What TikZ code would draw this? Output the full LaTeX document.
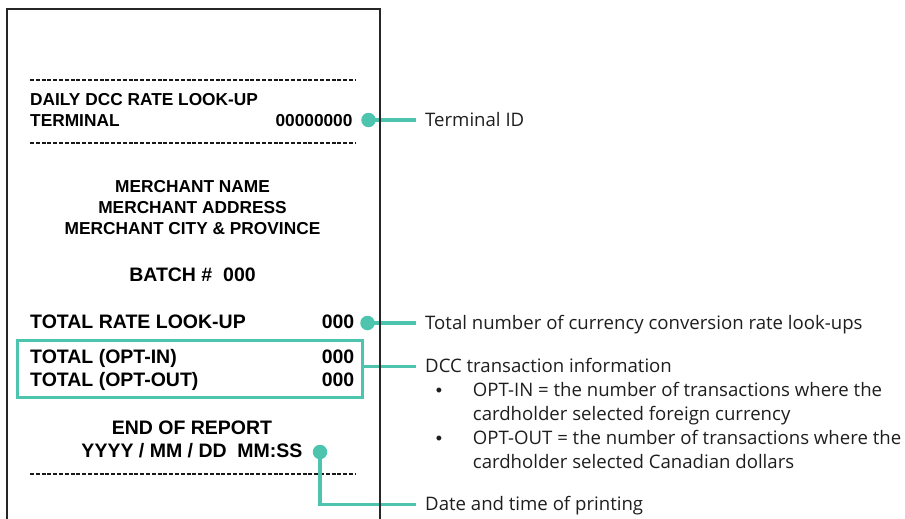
\documentclass[tikz,border=0pt]{standalone}
\usepackage{fontspec}
\newfontfamily\rfont{Liberation Sans}
\newfontfamily\lfont{Open Sans}
\definecolor{tealc}{RGB}{77,196,174}
\definecolor{txt}{RGB}{30,30,30}
\begin{document}
\begin{tikzpicture}[x=1pt,y=-1pt,
  rsmall/.style={inner sep=0pt, font=\rfont\bfseries\fontsize{17.3}{20}\selectfont, text=black},
  rbig/.style={inner sep=0pt, font=\rfont\bfseries\fontsize{19.5}{22}\selectfont, text=black},
  lab/.style={inner sep=0pt, anchor=base west, font=\lfont\fontsize{18.6}{21}\selectfont, text=txt},
  bul/.style={inner sep=0pt, anchor=base, font=\rfont\fontsize{18}{21}\selectfont, text=txt},
  dotc/.style={circle, fill=tealc, inner sep=0pt, minimum size=14.5pt},
  conn/.style={draw=tealc, line width=3.2pt},
  dashl/.style={draw=black!90, line width=2pt, dash pattern=on 4pt off 1.8pt}]
\useasboundingbox (0,0) rectangle (905,519);
\clip (0,0) rectangle (905,519);
% receipt texts
\coordinate (da1) at (30,80); \coordinate (db1) at (356,80);
\coordinate (da2) at (30,142.5); \coordinate (db2) at (356,142.5);
\coordinate (da3) at (30,474); \coordinate (db3) at (356,474);
\draw[dashl] (da1) -- (db1);
\draw[dashl] (da2) -- (db2);
\draw[dashl] (da3) -- (db3);
\node[rsmall, anchor=base west] (daily) at (30,105.7) {DAILY DCC RATE LOOK-UP};
\node[rsmall, anchor=base west] (term) at (30,126) {TERMINAL};
\node[rsmall, anchor=base east] (tid) at (352.7,126) {00000000};
\node[rsmall, anchor=base] (mn) at (192.5,192.5) {MERCHANT NAME};
\node[rsmall, anchor=base] (ma) at (192.5,213.5) {MERCHANT ADDRESS};
\node[rsmall, anchor=base] (mc) at (192.5,234.3) {MERCHANT CITY \& PROVINCE};
\node[rbig, anchor=base] (batch) at (192.5,281) {BATCH \#\ \ 000};
\node[rbig, anchor=base west] (trl) at (30,328.7) {TOTAL RATE LOOK-UP};
\node[rbig, anchor=base east] (trlv) at (354.5,328.7) {000};
\node[rbig, anchor=base west] (tin) at (30,363.5) {TOTAL (OPT-IN)};
\node[rbig, anchor=base east] (tinv) at (354.5,363.5) {000};
\node[rbig, anchor=base west] (tout) at (30,386) {TOTAL (OPT-OUT)};
\node[rbig, anchor=base east] (toutv) at (354.5,386) {000};
\node[rbig, anchor=base] (eor) at (192,434.5) {END OF REPORT};
\node[rbig, anchor=base] (ymd) at (192,457.5) {YYYY / MM / DD\ \ MM:SS};
% box
\node[draw=tealc, line width=3pt, minimum width=345.5pt, minimum height=57pt, inner sep=0pt] (box) at (189.75,369) {};
% dots
\node[dotc] (d1) at (368.5,120) {};
\node[dotc] (d2) at (367.5,323) {};
\node[dotc] (d4) at (320,452) {};
% label ends
\coordinate (e1) at (416,120);
\coordinate (e2) at (416,323);
\coordinate (e3) at (416,366.7);
\coordinate (e4) at (416,504.5);
\draw[conn] (d1.center) -- (e1);
\draw[conn] (d2.center) -- (e2);
\draw[conn] (box.east |- e3) -- (e3);
\draw[conn] (d4.center) |- (e4);
% labels
\node[lab] (l1) at (425,126.5) {Terminal ID};
\node[lab] (l2) at (425,329.8) {Total number of currency conversion rate look-ups};
\node[lab] (l3) at (425,372) {DCC transaction information};
\node[bul] (b1) at (439,396) {•};
\node[lab] (l3a) at (472.7,396) {OPT-IN = the number of transactions where the};
\node[lab] (l3b) at (472.7,420.2) {cardholder selected foreign currency};
\node[bul] (b2) at (439,444.4) {•};
\node[lab] (l3c) at (472.7,444.4) {OPT-OUT = the number of transactions where the};
\node[lab] (l3d) at (472.7,468.6) {cardholder selected Canadian dollars};
\node[lab] (l4) at (425,510.8) {Date and time of printing};
% receipt border
\draw[draw=black!85, line width=2pt] (7,525) -- (7,9) -- (379.5,9) -- (379.5,525);
\end{tikzpicture}
\end{document}
